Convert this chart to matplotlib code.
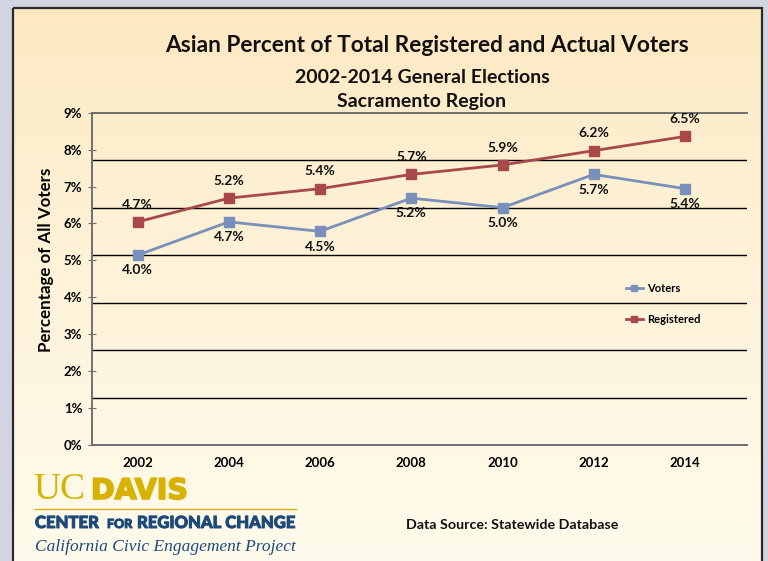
import numpy as np
import matplotlib.pyplot as plt
import matplotlib.patheffects as pe
from matplotlib.patches import Rectangle

plt.rcParams['font.family'] = ['Lato', 'DejaVu Sans']

years = [2002, 2004, 2006, 2008, 2010, 2012, 2014]
registered = [4.7, 5.2, 5.4, 5.7, 5.9, 6.2, 6.5]
voters = [4.0, 4.7, 4.5, 5.2, 5.0, 5.7, 5.4]
ytick_labels = ['0%', '1%', '2%', '3%', '4%', '5%', '6%', '7%', '8%', '9%']
grid_levels = [1, 2, 3, 4, 5, 6]

c_reg = '#a8484a'
c_vot = '#7890bb'
navy = '#1d4a7a'
gold = '#d9b100'

W, H = 768, 561
fig = plt.figure(figsize=(W / 100, H / 100), dpi=100, facecolor='#d2d4e1')

# background panel with vertical gradient
bg = fig.add_axes([0, 0, 1, 1], zorder=0)
bg.set_xlim(0, W)
bg.set_ylim(H, 0)
bg.axis('off')
grad = np.linspace(0, 1, 256).reshape(-1, 1)
top = np.array([253, 232, 192]) / 255
bot = np.array([255, 251, 236]) / 255
img = top + (bot - top) * grad[..., None] ** 0.8
bg.imshow(img.reshape(256, 1, 3), extent=[13, 762, H, 8], aspect='auto', zorder=0)
bg.add_patch(Rectangle((13, 8), 749, H, fill=False, edgecolor='#2a2a2a', lw=1.6, zorder=2))

# logo / footer texts
heavy_gold = [pe.withStroke(linewidth=1.2, foreground=gold)]
heavy_navy = [pe.withStroke(linewidth=0.7, foreground=navy)]
bg.text(33, 499, 'UC', family=['Liberation Serif'], fontsize=27, color=gold, va='baseline')
bg.text(91, 499, 'DAVIS', family=['DejaVu Sans'], fontsize=20.5, weight='bold',
        color=gold, va='baseline', path_effects=heavy_gold)
bg.plot([35, 296], [509, 509], color=gold, lw=1)
bg.text(35, 528, 'CENTER ', fontsize=12, weight='black', color=navy, va='baseline',
        path_effects=heavy_navy)
bg.text(107, 528, 'FOR', fontsize=9, weight='black', color=navy, va='baseline',
        path_effects=heavy_navy)
bg.text(137, 528, 'REGIONAL CHANGE', fontsize=12, weight='black', color=navy, va='baseline',
        path_effects=heavy_navy)
bg.text(35, 551, 'California Civic Engagement Project', family=['Liberation Serif'],
        style='italic', fontsize=12.5, color=navy, va='baseline')
bg.text(512, 525, 'Data Source: Statewide Database', fontsize=10.3, weight='bold',
        color='#111111', ha='center', va='center')

# titles
bg.text(427, 45, 'Asian Percent of Total Registered and Actual Voters', fontsize=16.3,
        weight='bold', color='#111111', ha='center', va='center')
bg.text(422, 77, '2002-2014 General Elections', fontsize=14, weight='bold',
        color='#111111', ha='center', va='center')
bg.text(422, 101, 'Sacramento Region', fontsize=14, weight='bold',
        color='#111111', ha='center', va='center')

# main plot
ax = fig.add_axes([92 / W, 1 - 445 / H, (747 - 92) / W, (445 - 112.7) / H], zorder=1)
ax.set_facecolor('none')
ax.set_xlim(2001, 2015.36)
ax.set_ylim(0, 7)

for g in grid_levels:
    ax.axhline(g, color='black', lw=1, zorder=1)

ax.plot(years, voters, color=c_vot, lw=2, marker='s', ms=6.5, label='Voters', zorder=3)
ax.plot(years, registered, color=c_reg, lw=2, marker='s', ms=6.5, label='Registered', zorder=3)

for x, v in zip(years, registered):
    ax.annotate(f'{v:.1f}%', (x, v), xytext=(0, 12.5), textcoords='offset points',
                ha='center', va='center', fontsize=10, weight='bold', color='#111111')
for x, v in zip(years, voters):
    ax.annotate(f'{v:.1f}%', (x, v), xytext=(0, -11), textcoords='offset points',
                ha='center', va='center', fontsize=10, weight='bold', color='#111111')

ax.set_xticks(years)
ax.set_xticklabels([str(y) for y in years], fontsize=9.5, weight='bold')
ax.tick_params(axis='x', length=0, pad=8.5)
ax.set_yticks(np.linspace(0, 7, len(ytick_labels)))
ax.set_yticklabels(ytick_labels, fontsize=9.5, weight='bold')
ax.tick_params(axis='y', direction='inout', length=6, color='#6f6f6f', pad=4)

for s in ['top', 'bottom', 'left']:
    ax.spines[s].set_color('#6f6f6f')
    ax.spines[s].set_linewidth(1.4)
ax.spines['right'].set_visible(False)

ax.set_ylabel('Percentage of All Voters', fontsize=12.2, weight='bold')
ax.yaxis.set_label_coords((54 - 92) / 655, (445 - 260) / 332.3)

leg = ax.legend(loc='upper left', bbox_to_anchor=(620 / W, 1 - 277 / H),
                bbox_transform=fig.transFigure, frameon=False,
                prop={'weight': 'bold', 'size': 8}, handlelength=1.6,
                handletextpad=0.3, labelspacing=1.85, borderpad=0)
for h in leg.legend_handles:
    h.set_markersize(5)

fig.savefig('out.png', dpi=100, facecolor=fig.get_facecolor())
